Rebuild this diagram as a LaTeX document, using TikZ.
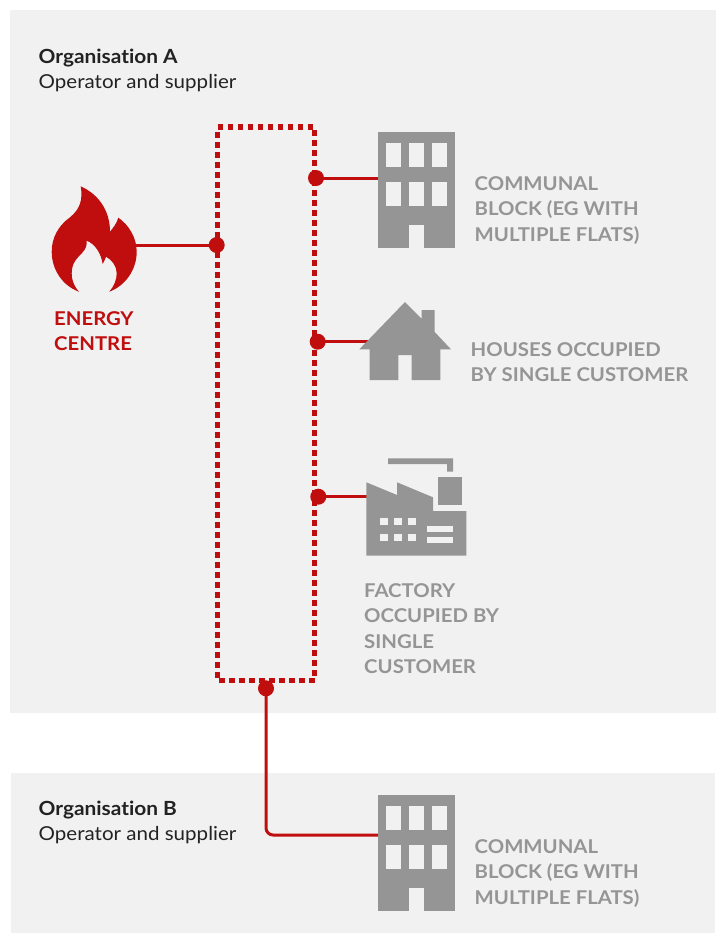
\documentclass[tikz,border=0pt]{standalone}
\usepackage{fontspec}
\setmainfont{Lato}[Ligatures=NoCommon,FakeStretch=1.07]
\definecolor{panelgrey}{HTML}{F1F1F1}
\definecolor{icongrey}{HTML}{959595}
\definecolor{netred}{HTML}{C00D0D}
\definecolor{inkdark}{HTML}{222222}
\tikzset{
  x=1pt,y=-1pt,
  panel/.style={fill=panelgrey,draw=none},
  icon/.style={fill=icongrey,draw=none},
  hole/.style={fill=panelgrey,draw=none},
  pipe/.style={draw=netred,line width=3pt},
  network/.style={draw=netred,line width=5.5pt,dash pattern=on 5.5pt off 4.5pt},
  joint/.style={circle,fill=netred,draw=none,minimum size=16pt,inner sep=0pt},
  anchorpt/.style={inner sep=0pt,minimum size=0pt},
  orgtitle/.style={anchor=base west,inner sep=0pt,text=inkdark,font=\fontsize{19.5}{22}\selectfont\bfseries},
  orgsub/.style={anchor=base west,inner sep=0pt,text=inkdark,font=\fontsize{19.2}{22}\selectfont},
  greylabel/.style={anchor=base west,inner sep=0pt,text=icongrey,font=\fontsize{19}{22}\selectfont\bfseries},
  redlabel/.style={anchor=base west,inner sep=0pt,text=netred,font=\fontsize{19}{22}\selectfont\bfseries},
  pics/block/.style={code={
    \path[icon] (0,0) rectangle (77,116);
    \foreach \wx in {7.7,30.5,53.5}{
      \path[hole] (\wx,11) rectangle ++(15.5,23.7);
      \path[hole] (\wx,50) rectangle ++(15.5,23.7);
    }
    \path[hole] (30.5,92.5) rectangle (46,116);
  }}
}
\begin{document}
\begin{tikzpicture}
\useasboundingbox (0,0) rectangle (727,946);
\fill[white] (0,0) rectangle (727,946);
\path[panel] (10,10) rectangle (716,713);
\path[panel] (11,773) rectangle (715,933);

% Labels
\node[orgtitle] (orgA) at (38.5,63) {Organisation A};
\node[orgsub] (orgAs) at (38.5,88) {Operator and supplier};
\node[orgtitle] (orgB) at (38.5,815) {Organisation B};
\node[orgsub] (orgBs) at (38.5,840) {Operator and supplier};
\node[redlabel] (ec1) at (54,325) {ENERGY};
\node[redlabel] (ec2) at (54,350) {CENTRE};
\node[greylabel] (a1) at (474.5,190) {COMMUNAL};
\node[greylabel] (a2) at (474.5,215) {BLOCK (EG WITH};
\node[greylabel] (a3) at (474.5,241) {MULTIPLE FLATS)};
\node[greylabel] (h1) at (470.5,356) {HOUSES OCCUPIED};
\node[greylabel] (h2) at (470.5,381) {BY SINGLE CUSTOMER};
\node[greylabel] (f1) at (364,597) {FACTORY};
\node[greylabel] (f2) at (364,622) {OCCUPIED BY};
\node[greylabel] (f3) at (364,648) {SINGLE};
\node[greylabel] (f4) at (364,673) {CUSTOMER};
\node[greylabel] (b1) at (474.5,853) {COMMUNAL};
\node[greylabel] (b2) at (474.5,878) {BLOCK (EG WITH};
\node[greylabel] (b3) at (474.5,904) {MULTIPLE FLATS)};

% Network loop
\draw[network] (217.7,132) -- (217.7,678);
\draw[network] (217.5,127) -- (314,127);
\draw[network] (314.7,130) -- (314.7,678);
\draw[network] (219.2,680.5) -- (316,680.5);

% Connection points
\node[anchorpt] (flameport) at (130,245) {};
\node[anchorpt] (blockAport) at (380,178) {};
\node[anchorpt] (houseport) at (368,341.7) {};
\node[anchorpt] (factoryport) at (368,496.7) {};
\node[anchorpt] (blockBport) at (380,835) {};
\node[joint] (j1) at (216.7,245) {};
\node[joint] (j2) at (316,178) {};
\node[joint] (j3) at (317.7,341.7) {};
\node[joint] (j4) at (318.3,496.7) {};
\node[joint] (j5) at (266,688.3) {};

% Connectors
\draw[pipe] (flameport.center) -- (j1.center);
\draw[pipe] (j2.center) -- (blockAport.center);
\draw[pipe] (j3.center) -- (houseport.center);
\draw[pipe] (j4.center) -- (factoryport.center);
\draw[pipe,rounded corners=7pt] (j5.center) |- (blockBport.center);

% Flame
\fill[netred] (80.7,186.3)
  .. controls (83,200) and (80,209) .. (70,217.3)
  .. controls (58,226) and (51.7,238) .. (51.7,251.7)
  .. controls (51.7,270) and (63,286) .. (79,291.7)
  .. controls (73,285) and (71.7,279) .. (71.7,273.3)
  .. controls (71.7,263) and (77,258) .. (82,253)
  .. controls (86,249) and (87,245) .. (86.7,240.7)
  .. controls (95,244) and (101,253) .. (102.7,264)
  .. controls (104,262) and (105,259) .. (106,256.7)
  .. controls (112,260) and (116.7,266) .. (116.7,273.3)
  .. controls (116.7,280) and (114,286) .. (109.3,291.7)
  .. controls (125,286) and (136.7,270) .. (136.7,251.7)
  .. controls (136.7,238) and (129,225) .. (118.3,217.7)
  .. controls (117,223) and (113,228) .. (110,231.7)
  .. controls (110,210) and (98,194) .. (80.7,186.3) -- cycle;

% Communal blocks
\pic at (378,132) {block};
\pic at (378,795) {block};

% House
\path[icon] (405,302) -- (421.7,318.7) -- (421.7,310) -- (434.7,310) -- (434.7,332)
  -- (451,349.3) -- (440.3,349.3) -- (440.3,380) -- (411.7,380) -- (411.7,355)
  -- (398.3,355) -- (398.3,380) -- (369.7,380) -- (369.7,349.3) -- (359.3,349.3) -- cycle;

% Factory
\path[icon] (366.3,482.3) -- (397,495) -- (397,482.3) -- (433,497.3) -- (433,511)
  -- (466.3,511) -- (466.3,555.7) -- (366.3,555.7) -- cycle;
\path[icon] (438.3,477) rectangle (462.3,505);
\path[icon] (388,458.3) -- (453,458.3) -- (453,471.7) -- (447,471.7) -- (447,464) -- (388,464) -- cycle;
\foreach \wx in {380.3,394.3,408}{
  \path[hole] (\wx,518.3) rectangle ++(8,6.4);
  \path[hole] (\wx,534.3) rectangle ++(8,6.4);
}
\path[hole] (427.3,526) rectangle (452.7,532);
\path[hole] (427.3,536.7) rectangle (452.7,543);
\end{tikzpicture}
\end{document}
